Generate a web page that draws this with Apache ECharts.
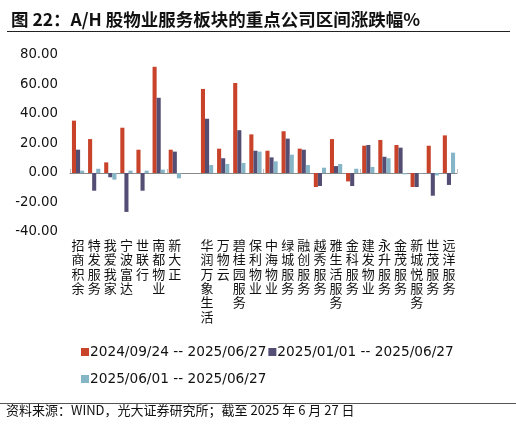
<!DOCTYPE html>
<html><head><meta charset="utf-8">
<script src="https://cdn.jsdelivr.net/npm/echarts@6/dist/echarts.min.js"></script>
<style>html,body{margin:0;padding:0;background:#fff}#c{width:516px;height:425px}</style>
</head><body><div id="c"></div>
<script>
const categories = ['招商积余','特发服务','我爱我家','宁波富达','世联行','南都物业','新大正','', '华润万象生活','万物云','碧桂园服务','保利物业','中海物业','绿城服务','融创服务','越秀服务','雅生活服务','金科服务','建发物业','永升服务','金茂服务','新城悦服务','世茂服务','远洋服务'];
const seriesNames = ['2024/09/24 -- 2025/06/27','2025/01/01 -- 2025/06/27','2025/06/01 -- 2025/06/27'];
const s1 = [35.5, 23, 7.2, 30.7, 15.8, 72, 15.8, null, 57, 16.5, 61, 26.2, 15.1, 28.3, 16.5, -9.5, 23, -5.7, 18.5, 22.4, 19, -9.5, 18.5, 25.5];
const s2 = [15.8, -12, -2.9, -26.4, -12, 51, 14.5, null, 36.8, 10, 29, 15.1, 10.6, 23.3, 15.8, -8.8, 4.7, -8.8, 19, 11, 17.2, -9.5, -15.4, -8.1];
const s3 = [1.6, 2.9, -4.5, 1.6, 1.6, 2.3, -3.6, null, 5.4, 6.1, 6.8, 14.5, 7.9, 12.4, 5.4, 3.6, 6.1, 2.9, 4.1, 10, -0.9, -0.3, -1.6, 13.8];
const yTicks = {min: -40, max: 80, interval: 20};
const colors = ['#C8432A', '#554E74', '#86B5C8'];

const chart = echarts.init(document.getElementById('c'));
const cjk = '"Noto Sans CJK SC", sans-serif';
const lat = '"DejaVu Sans", sans-serif';
chart.setOption({
  animation: false,
  title: {
    text: '图 22：A/H 股物业服务板块的重点公司区间涨跌幅%',
    left: 6, top: 6,
    textStyle: {fontFamily: cjk, fontSize: 17.5, fontWeight: 'bold', color: '#111'}
  },
  graphic: [
    {type: 'line', shape: {x1: 7, y1: 31.5, x2: 510, y2: 31.5}, style: {stroke: '#222', lineWidth: 1}},
    {type: 'line', shape: {x1: 0, y1: 403.5, x2: 516, y2: 403.5}, style: {stroke: '#555', lineWidth: 1}},
    {type: 'text', left: 6, top: 404, style: {text: '资料来源：WIND，光大证券研究所；截至 2025 年 6 月 27 日', font: '13px "Noto Sans CJK SC"', fill: '#111'}}
  ],
  legend: [
    {data: [seriesNames[0], seriesNames[1]], left: 76, top: 340, itemGap: 2, itemWidth: 8, itemHeight: 8, icon: 'rect',
     textStyle: {fontFamily: lat, fontSize: 13.7, color: '#111', padding: [0, 0, 0, -4]}},
    {data: [seriesNames[2]], left: 76, top: 367, itemGap: 2, itemWidth: 8, itemHeight: 8, icon: 'rect',
     textStyle: {fontFamily: lat, fontSize: 13.7, color: '#111', padding: [0, 0, 0, -4]}}
  ],
  grid: {left: 70, right: 59, top: 55, bottom: 193},
  xAxis: [
    {type: 'category', data: categories, position: 'bottom',
     axisLine: {show: false, onZero: false}, axisTick: {show: false},
     axisLabel: {interval: 0, margin: 6, fontFamily: cjk, fontSize: 13, color: '#111', lineHeight: 14.3,
       formatter: v => v.split('').join('\n')}},
    {type: 'category', data: categories, position: 'bottom',
     axisLine: {show: true, onZero: true, lineStyle: {color: '#8a8a8a', width: 1}},
     axisTick: {show: true, inside: true, length: 4, lineStyle: {color: '#c0c0c0'}},
     axisLabel: {show: false}}
  ],
  yAxis: {type: 'value', min: yTicks.min, max: yTicks.max, interval: yTicks.interval,
    axisLine: {show: false}, axisTick: {show: false}, splitLine: {show: false},
    axisLabel: {formatter: v => v.toFixed(2), fontFamily: lat, fontSize: 13.3, color: '#111', margin: 12}},
  series: [s1, s2, s3].map((d, i) => ({
    name: seriesNames[i], type: 'bar', data: d, xAxisIndex: 0,
    barGap: '0%', barCategoryGap: '24%',
    itemStyle: {color: colors[i]}
  }))
});
</script></body></html>
